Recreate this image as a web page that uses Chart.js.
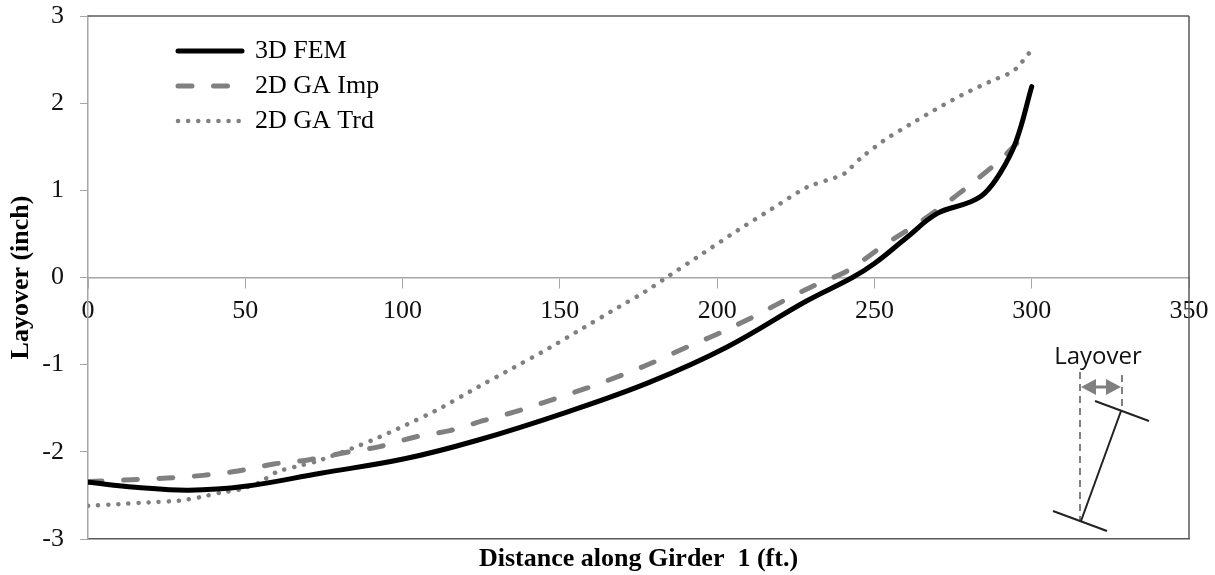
<!DOCTYPE html>
<html>
<head>
<meta charset="utf-8">
<title>Layover along girder</title>
<script src="https://cdn.jsdelivr.net/npm/chart.js@4/dist/chart.umd.min.js"></script>
<style>
    html, body { margin: 0; padding: 0; background: #fff; }
    canvas { display: block; }
</style>
</head>
<body>
<canvas id="layoverChart" width="1215" height="575"></canvas>
<script>
// values
var femX = [0, 15, 32, 50, 74, 100.6, 123.5, 152, 178.6, 203, 228.4, 243, 250, 260, 270, 280, 285, 290, 295, 300];
var femY = [-2.35, -2.405, -2.44, -2.395, -2.245, -2.08, -1.87, -1.546, -1.2, -0.8, -0.27, 0, 0.16, 0.45, 0.735, 0.86, 0.965, 1.2, 1.56, 2.19];

var impX = [0, 13.8, 25.2, 36.5, 47.7, 59, 70.4, 81.6, 92.7, 104, 115, 125.9, 137, 147.7, 158.5, 169.3, 178.6, 190.3, 200.6, 211, 221, 231, 241.6, 253, 263, 272, 281, 290, 298];
var impY = [-2.34, -2.32, -2.3, -2.27, -2.22, -2.14, -2.09, -2.01, -1.94, -1.83, -1.757, -1.64, -1.527, -1.4, -1.27, -1.125, -0.99, -0.8, -0.64, -0.46, -0.27, -0.09, 0.08, 0.37, 0.6, 0.83, 1.08, 1.35, 1.64];

var trdX = [0, 9.7, 19.4, 29.1, 35.6, 42, 48.5, 54.6, 60, 66, 72.6, 84.7, 90.8, 99.4, 111.5, 122.8, 134.2, 145.6, 156.9, 168.2, 176.5, 184.7, 195.6, 206.5, 217.5, 228.6, 237.8, 240.8, 245.5, 253.3, 261.5, 270, 278.7, 287.5, 293.4, 296, 297.9, 300];
var trdY = [-2.62, -2.6, -2.58, -2.56, -2.52, -2.47, -2.43, -2.35, -2.23, -2.17, -2.11, -1.95, -1.86, -1.72, -1.51, -1.28, -1.056, -0.83, -0.59, -0.35, -0.176, 0.02, 0.28, 0.54, 0.79, 1.037, 1.15, 1.2, 1.365, 1.58, 1.76, 1.94, 2.11, 2.26, 2.35, 2.43, 2.52, 2.61];

var seriesNames = ['3D FEM', '2D GA Imp', '2D GA Trd'];
var xTicks = [0, 50, 100, 150, 200, 250, 300, 350];
var yTicks = [-3, -2, -1, 0, 1, 2, 3];

var serif = '"Liberation Serif", "Times New Roman", serif';
var axisGrey = '#a6a6a6';
var frameGrey = '#595959';
var lineGrey = '#808080';

function toPoints(xs, ys) {
    var pts = [];
    for (var i = 0; i < xs.length; i++) {
        pts.push({ x: xs[i], y: ys[i] });
    }
    return pts;
}

function makeLine(name, xs, ys, color, width, dash, tension) {
    return {
        label: name,
        data: toPoints(xs, ys),
        borderColor: color,
        borderWidth: width,
        borderDash: dash,
        borderCapStyle: 'round',
        borderJoinStyle: 'round',
        tension: tension,
        pointRadius: 0,
        fill: false
    };
}

function seg(ctx, x1, y1, x2, y2) {
    ctx.beginPath();
    ctx.moveTo(x1, y1);
    ctx.lineTo(x2, y2);
    ctx.stroke();
}

function arrowHead(ctx, tipX, baseX, y) {
    ctx.beginPath();
    ctx.moveTo(tipX, y);
    ctx.lineTo(baseX, y - 8);
    ctx.lineTo(baseX, y + 8);
    ctx.closePath();
    ctx.fill();
}

// frame round the plot, the part the axes do not draw
var framePlugin = {
    id: 'frame',
    beforeDatasetsDraw: function (chart) {
        var a = chart.chartArea, ctx = chart.ctx;
        ctx.save();
        ctx.strokeStyle = frameGrey;
        ctx.lineWidth = 1.5;
        seg(ctx, a.left, a.top, a.right, a.top);
        seg(ctx, a.right, a.top, a.right, a.bottom);
        ctx.restore();
    }
};

// little girder sketch in the bottom right corner
var sketchPlugin = {
    id: 'layoverSketch',
    afterDraw: function (chart) {
        var ctx = chart.ctx;
        ctx.save();
        ctx.fillStyle = '#111';
        ctx.font = '24px "Open Sans", sans-serif';
        ctx.textAlign = 'center';
        ctx.textBaseline = 'middle';
        ctx.fillText('Layover', 1098, 357);

        ctx.strokeStyle = lineGrey;
        ctx.lineWidth = 2;
        ctx.setLineDash([7, 5]);
        seg(ctx, 1080, 372, 1080, 520);
        seg(ctx, 1122, 375, 1122, 411);
        ctx.setLineDash([]);

        ctx.lineWidth = 3;
        seg(ctx, 1090, 387, 1112, 387);
        ctx.fillStyle = lineGrey;
        arrowHead(ctx, 1081, 1096, 387);
        arrowHead(ctx, 1121, 1106, 387);

        ctx.strokeStyle = '#222';
        ctx.lineWidth = 2;
        seg(ctx, 1095, 401, 1149, 421);
        seg(ctx, 1053, 511, 1107, 531);
        seg(ctx, 1121, 411, 1081, 521);
        ctx.restore();
    }
};

// legend sits inside the plot, up in the left corner
var legendPlugin = {
    id: 'legendSpot',
    afterLayout: function (chart) {
        chart.legend.left = 169;
        chart.legend.top = 29;
    }
};

new Chart(document.getElementById('layoverChart'), {
    type: 'line',
    data: {
        datasets: [
            makeLine(seriesNames[0], femX, femY, '#000000', 5, [], 0.4),
            makeLine(seriesNames[1], impX, impY, lineGrey, 5, [14, 21.5], 0.3),
            makeLine(seriesNames[2], trdX, trdY, lineGrey, 4.5, [0.1, 10], 0.2)
        ]
    },
    plugins: [framePlugin, sketchPlugin, legendPlugin],
    options: {
        responsive: false,
        animation: false,
        layout: { padding: { top: 16, right: 26, bottom: 0, left: 0 } },
        plugins: {
            tooltip: { enabled: false },
            legend: {
                position: 'chartArea',
                align: 'start',
                labels: {
                    usePointStyle: true,
                    pointStyleWidth: 64,
                    padding: 9,
                    color: '#000',
                    font: { family: serif, size: 26 },
                    generateLabels: function (chart) {
                        return chart.data.datasets.map(function (d, i) {
                            return {
                                text: d.label,
                                strokeStyle: d.borderColor,
                                fillStyle: d.borderColor,
                                lineWidth: d.borderWidth,
                                lineDash: d.borderDash,
                                lineCap: 'round',
                                pointStyle: 'line',
                                hidden: false,
                                datasetIndex: i
                            };
                        });
                    }
                }
            }
        },
        scales: {
            x: {
                type: 'linear',
                position: { y: 0 },
                min: 0,
                max: 350,
                afterBuildTicks: function (scale) {
                    scale.ticks = xTicks.map(function (v) { return { value: v }; });
                },
                afterFit: function (scale) {
                    scale.paddingLeft = 0;
                    scale.paddingRight = 0;
                },
                border: { display: true, color: axisGrey, width: 1.5 },
                grid: { drawOnChartArea: false, tickColor: axisGrey, tickLength: 10 },
                ticks: {
                    color: '#111',
                    maxRotation: 0,
                    autoSkip: false,
                    padding: 8,
                    font: { family: serif, size: 26 }
                }
            },
            xBottom: {
                type: 'linear',
                axis: 'x',
                position: 'bottom',
                min: 0,
                max: 350,
                afterFit: function (scale) { scale.height = 36; },
                border: { display: true, color: frameGrey, width: 1.5 },
                grid: { display: false },
                ticks: { display: false },
                title: {
                    display: true,
                    text: 'Distance along Girder  1 (ft.)',
                    color: '#000',
                    padding: { top: 5, bottom: 0 },
                    font: { family: serif, size: 26, weight: 'bold' }
                }
            },
            y: {
                type: 'linear',
                position: 'left',
                min: -3,
                max: 3,
                afterBuildTicks: function (scale) {
                    scale.ticks = yTicks.map(function (v) { return { value: v }; });
                },
                afterFit: function (scale) {
                    scale.width = 88;
                    scale.paddingTop = 0;
                    scale.paddingBottom = 0;
                },
                border: { display: true, color: axisGrey, width: 1.5 },
                grid: { drawOnChartArea: false, tickColor: axisGrey, tickLength: 8 },
                ticks: {
                    color: '#111',
                    padding: 16,
                    font: { family: serif, size: 26 }
                },
                title: {
                    display: true,
                    text: 'Layover (inch)',
                    color: '#000',
                    padding: { top: 6, bottom: 0 },
                    font: { family: serif, size: 26, weight: 'bold' }
                }
            }
        }
    }
});
</script>
</body>
</html>
